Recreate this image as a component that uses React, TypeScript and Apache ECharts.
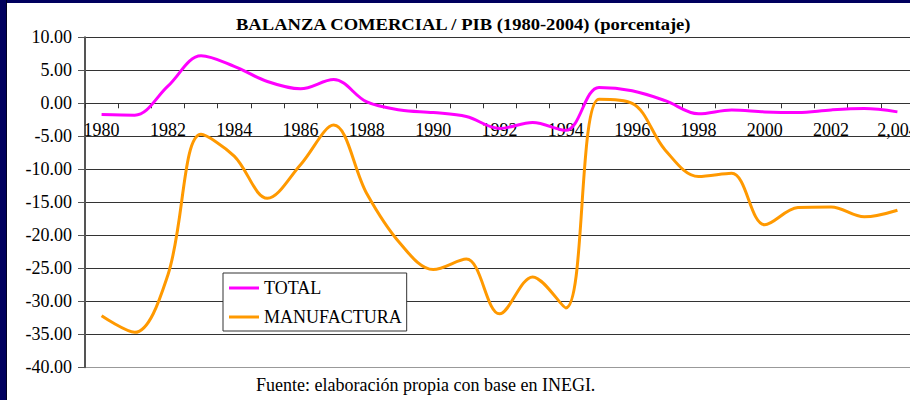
import React, { useEffect, useRef } from 'react';
import * as echarts from 'echarts';

const categories = [
  '1980', '1981', '1982', '1983', '1984', '1985', '1986', '1987', '1988', '1989',
  '1990', '1991', '1992', '1993', '1994', '1995', '1996', '1997', '1998', '1999',
  '2000', '2001', '2002', '2003', '2,004',
];

const totalValues = [
  -1.7, -1.8, 2.6, 7.2, 5.6, 3.3, 2.2, 3.6, 0.2, -1.0,
  -1.4, -2.0, -3.8, -2.9, -4.1, 2.4, 1.9, 0.4, -1.6, -1.0,
  -1.3, -1.4, -1.0, -0.8, -1.3,
];

const manufacturaValues = [
  -32.2, -34.7, -26.0, -4.7, -8.0, -14.4, -9.3, -3.3, -13.7, -21.2,
  -25.2, -23.6, -31.9, -26.3, -31.0, 0.6, 0.0, -7.1, -11.1, -10.6,
  -18.4, -15.8, -15.7, -17.2, -16.2,
];

const seriesNames = ['TOTAL', 'MANUFACTURA'];
const titleText = 'BALANZA COMERCIAL / PIB (1980-2004) (porcentaje)';
const sourceText = 'Fuente: elaboración propia con base en INEGI.';

const FONT = "'Liberation Serif', 'Times New Roman', serif";

const Y_MIN = -40;
const Y_MAX = 10;
const GRID_TOP = 37.3;
const GRID_HEIGHT = 330;

export default function App() {
  const ref = useRef<HTMLDivElement>(null);

  useEffect(() => {
    if (!ref.current) return;
    const chart = echarts.init(ref.current, null, { renderer: 'svg' });
    const gridColors = ['#999999'];
    for (let i = 0; i < 10; i++) gridColors.push('#333333');
    // place the category axis on the zero line of the value axis
    const zeroOffset = -GRID_HEIGHT * (0 - Y_MIN) / (Y_MAX - Y_MIN);
    chart.setOption({
      animation: false,
      backgroundColor: '#ffffff',
      grid: {
        left: 85,
        right: -4,
        top: GRID_TOP,
        height: GRID_HEIGHT,
        containLabel: false,
        outerBoundsMode: 'none',
      },
      xAxis: {
        type: 'category',
        data: categories,
        boundaryGap: true,
        position: 'bottom',
        offset: zeroOffset,
        axisLine: { show: true, onZero: false, lineStyle: { color: '#333333', width: 1 } },
        axisTick: { show: true, interval: 0, length: 5, inside: false, lineStyle: { color: '#333333', width: 1 } },
        axisLabel: { interval: 1, margin: 18, color: '#000000', fontFamily: FONT, fontSize: 18 },
        splitLine: { show: false },
      },
      yAxis: {
        type: 'value',
        min: Y_MIN,
        max: Y_MAX,
        interval: 5,
        axisLine: { show: true, onZero: false, lineStyle: { color: '#555555', width: 2 } },
        axisTick: { show: true, length: 7, lineStyle: { color: '#555555', width: 1 } },
        axisLabel: {
          formatter: (v: number) => v.toFixed(2),
          margin: 13,
          color: '#000000',
          fontFamily: FONT,
          fontSize: 18,
        },
        splitLine: { show: true, lineStyle: { color: gridColors, width: 1 } },
      },
      legend: {
        orient: 'vertical',
        left: 223,
        top: 273,
        padding: [6, 5, 5, 6],
        itemGap: 11,
        itemWidth: 30,
        itemHeight: 3,
        icon: 'rect',
        backgroundColor: '#ffffff',
        borderColor: '#333333',
        borderWidth: 1,
        borderRadius: 0,
        textStyle: { fontFamily: FONT, fontSize: 18, color: '#000000' },
        data: seriesNames,
      },
      series: [
        {
          name: seriesNames[0],
          type: 'line',
          data: totalValues,
          smooth: 0.35,
          symbol: 'none',
          itemStyle: { color: '#ff00ff' },
          lineStyle: { color: '#ff00ff', width: 3 },
          z: 3,
        },
        {
          name: seriesNames[1],
          type: 'line',
          data: manufacturaValues,
          smooth: 0.35,
          symbol: 'none',
          itemStyle: { color: '#ff9900' },
          lineStyle: { color: '#ff9900', width: 3 },
          z: 2,
        },
      ],
      graphic: [
        { type: 'rect', left: 0, top: 0, shape: { width: 910, height: 3 }, style: { fill: '#00005e' }, z: 100 },
        { type: 'rect', left: 0, top: 0, shape: { width: 6, height: 400 }, style: { fill: '#00005e' }, z: 100 },
        { type: 'rect', left: 6, top: 0, shape: { width: 1, height: 400 }, style: { fill: '#000022' }, z: 100 },
        {
          type: 'text',
          left: 236,
          top: 17,
          scaleX: 1.16,
          style: { text: titleText, font: `bold 16px ${FONT}`, fill: '#000000' },
          z: 50,
        },
        {
          type: 'text',
          left: 256,
          top: 376,
          style: { text: sourceText, font: `18px ${FONT}`, fill: '#000000' },
          z: 50,
        },
      ],
    });
    return () => chart.dispose();
  }, []);

  return (
    <div
      ref={ref}
      style={{ position: 'fixed', left: 0, top: 0, width: 910, height: 400 }}
    />
  );
}
